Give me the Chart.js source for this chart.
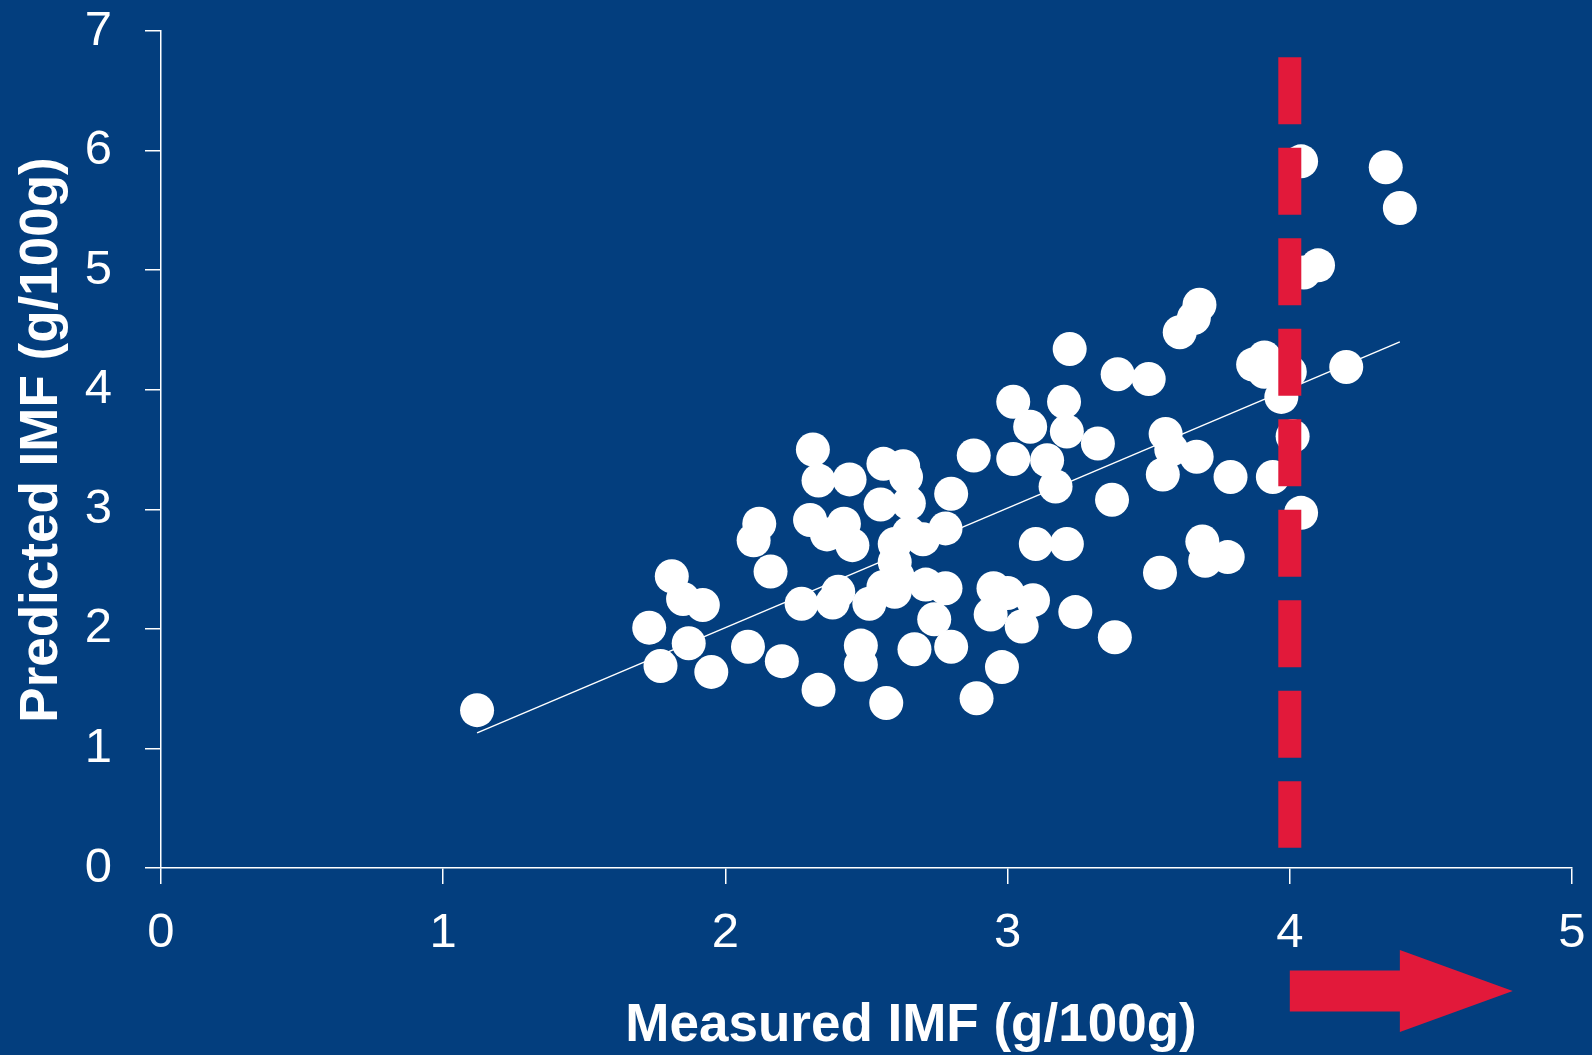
<!DOCTYPE html>
<html>
<head>
<meta charset="utf-8">
<title>Predicted vs measured IMF</title>
<script src="https://cdn.jsdelivr.net/npm/chart.js@4/dist/chart.umd.min.js"></script>
<style>
  html, body { margin: 0; padding: 0; background: #033E7E; }
  #wrap { position: relative; width: 1592px; height: 1055px; background: #033E7E; }
</style>
</head>
<body>
<div id="wrap"><canvas id="chart"></canvas></div>
<script>
// Measured (x) and predicted (y) intramuscular fat, g/100g
const measuredIMF = [
  1.12, 1.81, 1.85, 1.92, 1.73, 1.87, 1.77, 1.95, 2.08, 2.10,
  2.12, 2.16, 2.20, 2.27, 2.31, 2.33, 2.44, 2.56, 2.63, 2.64,
  2.55, 2.65, 2.80, 2.88, 2.30, 2.36, 2.42, 2.45, 2.60, 2.65,
  2.70, 2.78, 2.38, 2.40, 2.51, 2.56, 2.61, 2.60, 2.60, 2.71,
  2.78, 2.74, 2.67, 2.80, 2.48, 2.48, 2.33, 2.57, 3.08, 3.21,
  3.32, 3.02, 3.14, 3.17, 3.37, 3.10, 3.21, 3.54, 2.95, 3.00,
  3.09, 2.94, 3.05, 3.24, 3.38, 2.98, 2.89, 3.22, 3.39, 3.50,
  3.61, 3.66, 3.68, 3.02, 3.20, 3.56, 3.58, 3.67, 3.55, 3.79,
  3.69, 3.70, 3.78, 4.04, 4.04, 4.34, 4.39, 4.10, 4.05, 3.87,
  3.91, 3.91, 4.00, 3.97, 4.20, 3.94, 4.01
];
const predictedIMF = [
  1.32, 2.44, 2.25, 2.20, 2.01, 1.88, 1.69, 1.64, 1.85, 2.74,
  2.88, 2.48, 1.73, 2.21, 3.50, 3.24, 3.25, 3.38, 3.36, 3.27,
  3.04, 3.05, 3.13, 3.45, 2.91, 2.79, 2.88, 2.70, 2.71, 2.80,
  2.75, 2.84, 2.22, 2.31, 2.21, 2.35, 2.44, 2.31, 2.56, 2.37,
  2.34, 2.08, 1.83, 1.85, 1.86, 1.70, 1.49, 1.38, 3.69, 3.65,
  3.55, 3.42, 3.41, 3.19, 3.08, 2.71, 2.71, 2.47, 2.34, 2.30,
  2.24, 2.12, 2.02, 2.14, 1.93, 1.68, 1.42, 4.34, 4.13, 4.09,
  4.48, 4.60, 4.71, 3.90, 3.90, 3.63, 3.50, 3.44, 3.29, 3.27,
  2.73, 2.57, 2.60, 2.97, 5.91, 5.86, 5.52, 5.04, 4.98, 4.21,
  4.27, 4.15, 4.15, 3.94, 4.19, 3.27, 3.61
];

// Fitted regression line end points
const fitX = [1.12, 4.39];
const fitY = [1.13, 4.40];

// Threshold marker at measured IMF = 4 and the arrow pointing beyond it
const thresholdX = 4;
const thresholdSpan = [6.78, 0.17];
const arrowX = [4, 4.39, 4.79]; // tail, head base, tip

const xTicks = [0, 1, 2, 3, 4, 5];
const yTicks = [0, 1, 2, 3, 4, 5, 6, 7];
const xTitle = 'Measured IMF (g/100g)';
const yTitle = 'Predicted IMF (g/100g)';

const WHITE = '#FFFFFF';
const RED = '#E2193A';
const TICK_FONT = { family: '"Liberation Sans", Arial, Helvetica, sans-serif', size: 49 };
const TITLE_FONT = 'bold 53px "Liberation Sans", Arial, Helvetica, sans-serif';

const scatterPoints = measuredIMF.map((x, i) => ({ x, y: predictedIMF[i] }));
const fitPoints = fitX.map((x, i) => ({ x, y: fitY[i] }));
const thresholdPoints = thresholdSpan.map(y => ({ x: thresholdX, y }));

// Axis captions and the red arrow under the x axis
const decorations = {
  id: 'decorations',
  afterDraw(chart) {
    const { ctx, chartArea, scales } = chart;
    ctx.save();
    ctx.fillStyle = WHITE;
    ctx.font = TITLE_FONT;
    ctx.textAlign = 'center';
    ctx.textBaseline = 'alphabetic';
    ctx.fillText(xTitle, chartArea.left + 750, chartArea.bottom + 173);

    ctx.translate(57, chartArea.top + 409);
    ctx.rotate(-Math.PI / 2);
    ctx.fillText(yTitle, 0, 0);
    ctx.restore();

    const x = scales.x;
    const tail = x.getPixelForValue(arrowX[0]);
    const base = x.getPixelForValue(arrowX[1]);
    const tip = x.getPixelForValue(arrowX[2]);
    const cy = chartArea.bottom + 123;
    ctx.save();
    ctx.fillStyle = RED;
    ctx.beginPath();
    ctx.moveTo(tail, cy - 20.5);
    ctx.lineTo(base, cy - 20.5);
    ctx.lineTo(base, cy - 41);
    ctx.lineTo(tip, cy);
    ctx.lineTo(base, cy + 41);
    ctx.lineTo(base, cy + 20.5);
    ctx.lineTo(tail, cy + 20.5);
    ctx.closePath();
    ctx.fill();
    ctx.restore();
  }
};

new Chart(document.getElementById('chart'), {
  type: 'scatter',
  data: {
    datasets: [
      {
        type: 'line',
        data: thresholdPoints,
        borderColor: RED,
        borderWidth: 23,
        borderDash: [67, 23.5],
        borderCapStyle: 'butt',
        pointRadius: 0,
        fill: false,
        order: 0
      },
      {
        type: 'line',
        data: fitPoints,
        borderColor: WHITE,
        borderWidth: 1.5,
        pointRadius: 0,
        fill: false,
        order: 1
      },
      {
        data: scatterPoints,
        backgroundColor: WHITE,
        borderWidth: 0,
        pointRadius: 17,
        pointHoverRadius: 17,
        order: 2
      }
    ]
  },
  options: {
    responsive: true,
    maintainAspectRatio: false,
    animation: false,
    events: [],
    layout: { padding: { top: 31, right: 20, left: 0, bottom: 0 } },
    plugins: { legend: { display: false }, tooltip: { enabled: false } },
    scales: {
      x: {
        type: 'linear',
        min: 0,
        max: 5,
        afterBuildTicks: s => { s.ticks = xTicks.map(v => ({ value: v })); },
        afterFit: s => { s.height = 187; s.paddingLeft = 0; s.paddingRight = 0; },
        ticks: { color: WHITE, font: TICK_FONT, padding: 20, maxRotation: 0 },
        grid: { drawOnChartArea: false, drawTicks: true, tickLength: 16, color: WHITE, lineWidth: 1.5 },
        border: { display: true, color: WHITE, width: 1.5 }
      },
      y: {
        type: 'linear',
        min: 0,
        max: 7,
        afterBuildTicks: s => { s.ticks = yTicks.map(v => ({ value: v })); },
        afterFit: s => { s.width = 161; s.paddingTop = 0; s.paddingBottom = 0; },
        ticks: { color: WHITE, font: TICK_FONT, padding: 33 },
        grid: { drawOnChartArea: false, drawTicks: true, tickLength: 16, color: WHITE, lineWidth: 1.5 },
        border: { display: true, color: WHITE, width: 1.5 }
      }
    }
  },
  plugins: [decorations]
});
</script>
</body>
</html>
